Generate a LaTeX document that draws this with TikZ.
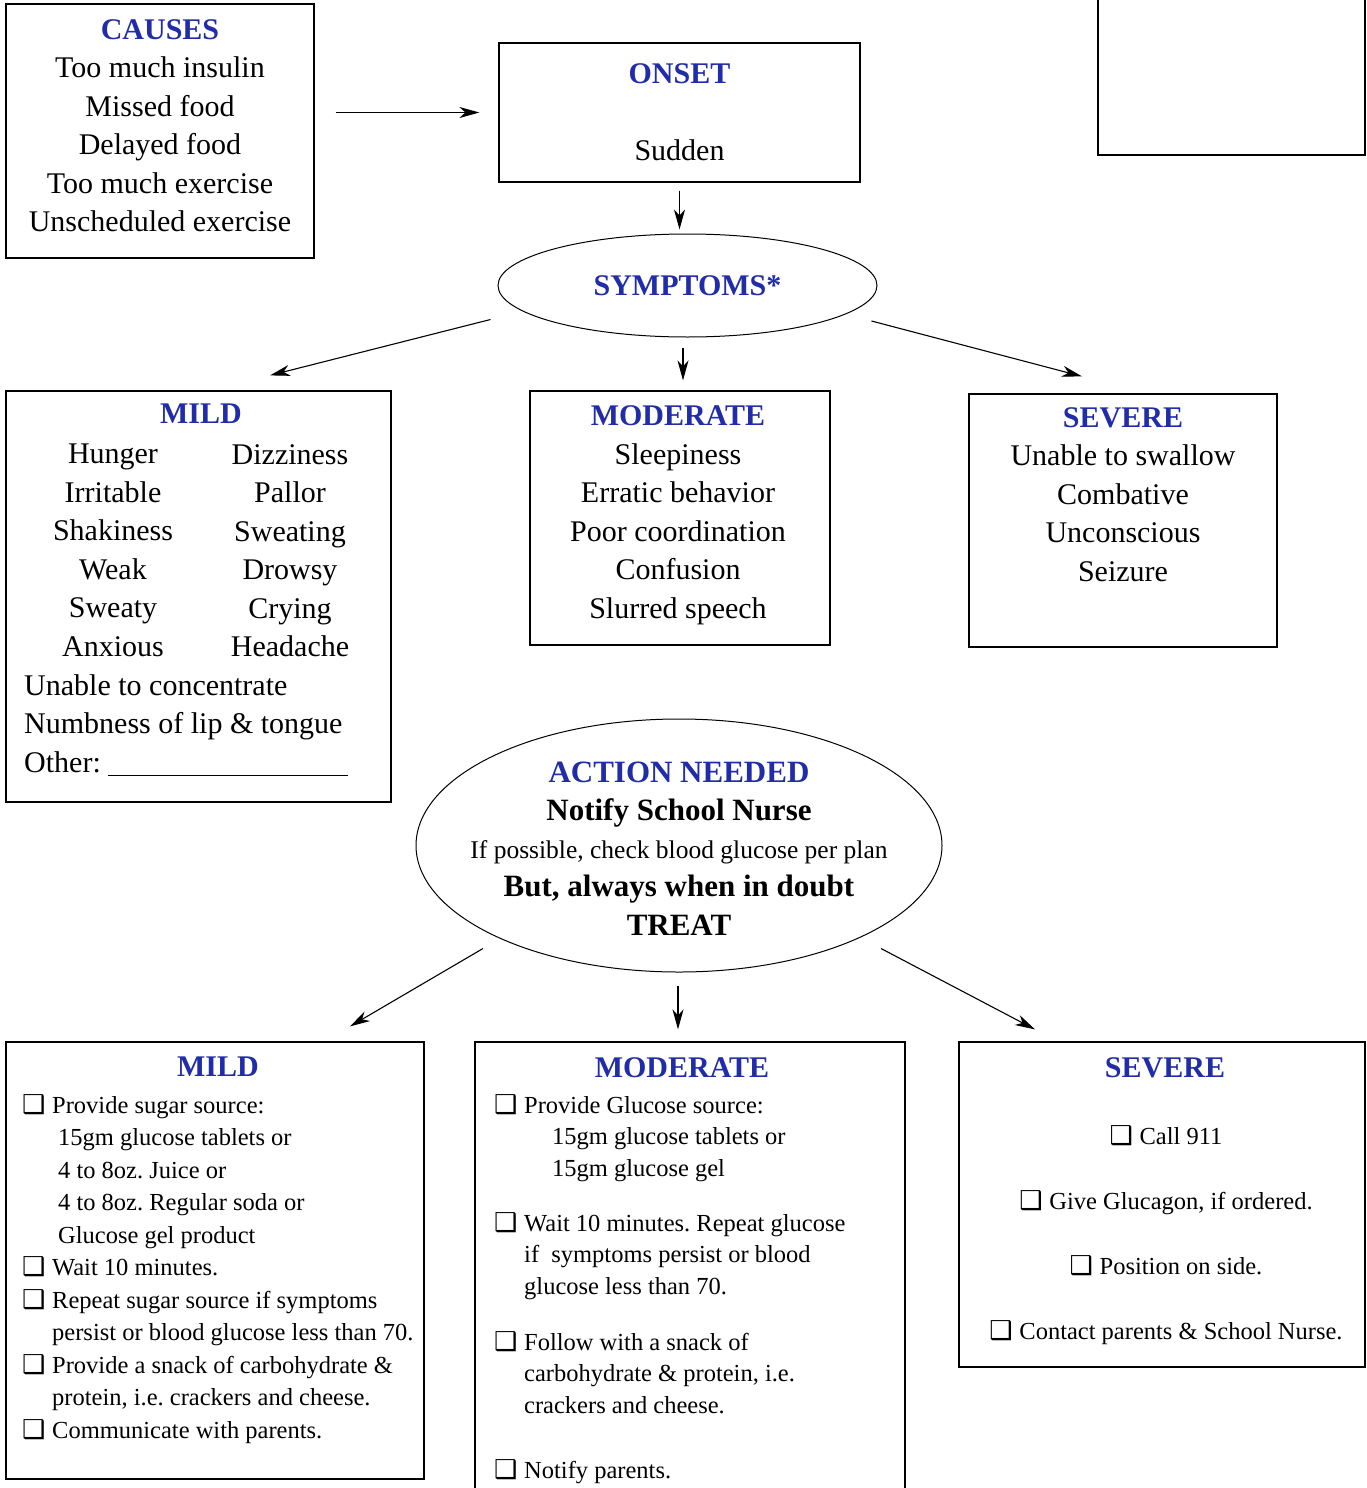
\documentclass[tikz,border=0pt]{standalone}
\usepackage{fontspec}
\setmainfont{Liberation Serif}
\newfontfamily\dejavu{DejaVu Sans}
\usepackage{xcolor}
\usetikzlibrary{calc}
\usetikzlibrary{arrows.meta}
\usetikzlibrary{shapes.geometric}
\definecolor{titleblue}{RGB}{32,44,168}
\frenchspacing
\newcommand{\hd}[1]{{\color{titleblue}\bfseries #1}}
\newcommand{\chk}{\makebox[30pt][l]{\dejavu\bfseries\fontsize{26}{26}\selectfont ❑}}
\tikzset{
  box/.style={draw, line width=1.2pt, inner sep=0pt},
  oval/.style={draw, ellipse, line width=1pt, inner sep=0pt},
  arr/.style={-{Stealth[length=20pt,width=11pt,inset=6pt]}, line width=1.1pt},
  big/.style={font=\fontsize{30}{38.5}\selectfont, inner sep=0pt},
  small/.style={font=\fontsize{24.5}{32.5}\selectfont, inner sep=0pt},
}

\begin{document}
\begin{tikzpicture}[x=1pt, y=-1pt]
		\useasboundingbox (0,0) rectangle (1367,1488);
		% top row
		\node[box, minimum width=308pt, minimum height=254pt] (causes) at (160,131) {};
		\node[box, minimum width=361pt, minimum height=139pt] (onset) at (679.5,112.5) {};
		\node[box, minimum width=267pt, minimum height=175pt] (blank) at (1231.5,67.5) {};
		\node[big, anchor=north, align=center] (causetx) at (160,19) {\hd{CAUSES}\\Too much insulin\\Missed food\\Delayed food\\Too much exercise\\Unscheduled exercise};
		\node[big, anchor=north, align=center] (onsettx) at (679.5,63) {\hd{ONSET}\\[38.5pt]Sudden};
		\node[oval, big, minimum width=379pt, minimum height=103pt] (symptoms) at (687.5,285.5) {\hd{SYMPTOMS*}};
		\draw[arr, shorten <=21pt, shorten >=19pt] (causes.east |- onset.west) -- (onset.west);
		\draw[arr, shorten <=8pt, shorten >=4pt] (onset.south) -- (onset.south |- symptoms.north);
		% symptoms
		\node[box, minimum width=385pt, minimum height=411pt] (mild) at (198.5,596.5) {};
		\node[box, minimum width=300pt, minimum height=254pt] (moderate) at (680,518) {};
		\node[box, minimum width=308pt, minimum height=253pt] (severe) at (1123,520.5) {};
		\node[big, anchor=north] (mildhd) at (201,404) {\hd{MILD}};
		\node[big, anchor=north, align=center] (mildl) at (113,444) {Hunger\\Irritable\\Shakiness\\Weak\\Sweaty\\Anxious};
		\node[big, anchor=north, align=center] (mildr) at (290,444) {Dizziness\\Pallor\\Sweating\\Drowsy\\Crying\\Headache};
		\node[big, anchor=north west, align=left] (mildx) at (24,674) {Unable to concentrate\\Numbness of lip \& tongue\\Other: \rule[-4pt]{240pt}{1.4pt}};
		\node[big, anchor=north, align=center] (modtxt) at (678,405.5) {\hd{MODERATE}\\Sleepiness\\Erratic behavior\\Poor coordination\\Confusion\\Slurred speech};
		\node[big, anchor=north, align=center] (sevtxt) at (1123,407) {\hd{SEVERE}\\Unable to swallow\\Combative\\Unconscious\\Seizure};
		\draw[arr] ($(symptoms.west)+(-7,34)$) -- ($(mild.north)+(71.5,-15)$);
		\draw[arr] ($(symptoms.south)+(-4.5,10)$) -- ($(moderate.north)+(3,-10)$);
		\draw[arr] ($(symptoms.east)+(-6,35.5)$) -- ($(severe.north)+(-41,-17)$);
		% action
		\node[oval, minimum width=526pt, minimum height=253pt] (action) at (679,845.5) {};
		\node[big, align=center, font=\fontsize{31}{38.2}\selectfont] (acttx) at ($(action.center)+(0,3)$) {\hd{ACTION NEEDED}\\\textbf{Notify School Nurse}\\{\fontsize{25.5}{38.2}\selectfont If possible, check blood glucose per plan}\\\textbf{But, always when in doubt}\\\textbf{TREAT}};
		% treatment
		\node[box, minimum width=418pt, minimum height=437pt] (mildtx) at (215,1260.5) {};
		\node[box, minimum width=430pt, minimum height=468pt] (modtx) at (690,1276) {};
		\node[box, minimum width=406pt, minimum height=325pt] (sevtx) at (1162,1204.5) {};
		\node[big, anchor=north] (mildtxhd) at (218,1057) {\hd{MILD}};
		\node[big, anchor=north] (modtxhd) at (682,1057) {\hd{MODERATE}};
		\node[big, anchor=north] (sevtxhd) at (1165,1057) {\hd{SEVERE}};
		\node[small, anchor=north west, align=left] (mildlist) at (22,1094) {\chk Provide sugar source:\\
			\hspace*{36pt}15gm glucose tablets or\\
			\hspace*{36pt}4 to 8oz. Juice or\\
			\hspace*{36pt}4 to 8oz. Regular soda or\\
			\hspace*{36pt}Glucose gel product\\
			\chk Wait 10 minutes.\\
			\chk Repeat sugar source if symptoms\\
			\hspace*{30pt}persist or blood glucose less than 70.\\
			\chk Provide a snack of carbohydrate \&\\
			\hspace*{30pt}protein, i.e. crackers and cheese.\\
			\chk Communicate with parents.};
		\node[small, anchor=north west, align=left, font=\fontsize{24.5}{31.5}\selectfont] (modlist) at (494,1094) {\chk Provide Glucose source:\\
			\hspace*{58pt}15gm glucose tablets or\\
			\hspace*{58pt}15gm glucose gel\\[23.5pt]
			\chk Wait 10 minutes. Repeat glucose\\
			\hspace*{30pt}if\ \ symptoms persist or blood\\
			\hspace*{30pt}glucose less than 70.\\[24.5pt]
			\chk Follow with a snack of\\
			\hspace*{30pt}carbohydrate \& protein, i.e.\\
			\hspace*{30pt}crackers and cheese.\\[33.5pt]
			\chk Notify parents.};
		\node[small, anchor=north, align=center, font=\fontsize{24.5}{65}\selectfont] (sevlist) at (1166,1125) {\chk Call 911\\\chk Give Glucagon, if ordered.\\\chk Position on side.\\\chk Contact parents \& School Nurse.};
		\draw[arr] ($(action.south)+(-196,-24)$) -- ($(mildtx.north)+(135,-15)$);
		\draw[arr] ($(action.south)+(-1,13)$) -- ($(modtx.north)+(-12,-12)$);
		\draw[arr] ($(action.south)+(202,-24)$) -- ($(sevtx.north)+(-127,-12)$);
\end{tikzpicture}
\end{document}
